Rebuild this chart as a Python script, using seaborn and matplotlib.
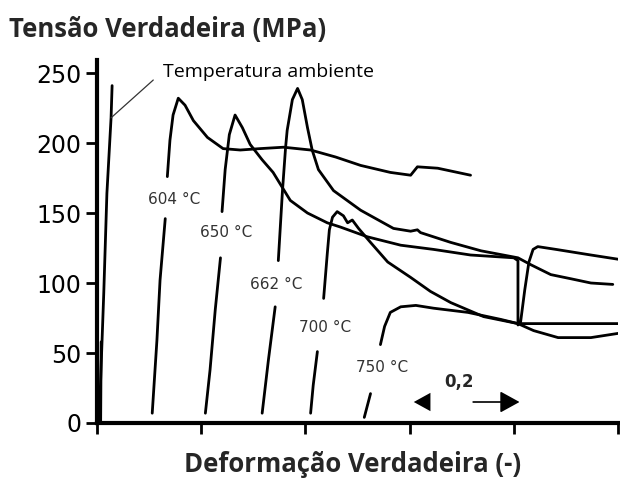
import numpy as np
import pandas as pd
import matplotlib
matplotlib.use("Agg")
import matplotlib.pyplot as plt
import seaborn as sns

# ---- data (strain [-], true stress [MPa]) ----
amb_strain = [0.004, 0.013, 0.019, 0.027, 0.029]
amb_stress = [0.0, 93, 164, 218, 241]
amb_base_strain = [0.007, 0.008]
amb_base_stress = [0.0, 58]

c604_lo_strain = [0.106, 0.115, 0.121, 0.131]
c604_lo_stress = [7, 59, 102, 146]
c604_up_strain = [0.135, 0.140, 0.146, 0.156, 0.169, 0.185, 0.212, 0.242, 0.275,
                  0.313, 0.358, 0.410, 0.458, 0.506, 0.563, 0.602, 0.615, 0.654, 0.717]
c604_up_stress = [176, 202, 220, 232, 227, 216, 204, 196, 195,
                  196, 197, 195, 190, 184, 179, 177, 183, 182, 177]

c650_lo_strain = [0.208, 0.217, 0.227, 0.237]
c650_lo_stress = [7, 38, 81, 118]
c650_up_strain = [0.240, 0.246, 0.254, 0.265, 0.279, 0.294, 0.317, 0.338, 0.371,
                  0.404, 0.442, 0.467, 0.519, 0.583, 0.646, 0.717, 0.800, 0.808,
                  0.808, 0.813, 0.821, 0.829, 0.837, 0.846, 0.881, 0.948, 1.0]
c650_up_stress = [151, 181, 206, 220, 211, 199, 188, 179, 159,
                  150, 143, 140, 133, 127, 124, 120, 118, 116,
                  70, 72, 95, 115, 124, 126, 124, 120, 117]

c662_lo_strain = [0.317, 0.329, 0.342]
c662_lo_stress = [7, 45, 83]
c662_up_strain = [0.348, 0.356, 0.362, 0.365, 0.375, 0.385, 0.394, 0.404, 0.413,
                  0.425, 0.454, 0.506, 0.569, 0.602, 0.615, 0.621, 0.679, 0.737,
                  0.808, 0.833, 0.871, 0.910, 0.948, 0.990]
c662_up_stress = [116, 166, 197, 209, 231, 239, 231, 211, 195,
                  181, 166, 152, 139, 137, 138, 136, 129, 123,
                  118, 113, 106, 103, 100, 99]

c700_lo_strain = [0.410, 0.415, 0.423]
c700_lo_stress = [7, 27, 51]
c700_up_strain = [0.435, 0.442, 0.446, 0.452, 0.461, 0.473, 0.481, 0.490, 0.502,
                  0.525, 0.558, 0.602, 0.640, 0.679, 0.742, 0.808, 0.838, 0.885,
                  0.948, 1.0]
c700_up_stress = [89, 121, 138, 147, 151, 148, 143, 145, 139,
                  129, 115, 104, 94, 86, 76, 71, 66, 61,
                  61, 64]

c750_lo_strain = [0.513, 0.525]
c750_lo_stress = [4, 21]
c750_up_strain = [0.544, 0.552, 0.563, 0.583, 0.612, 0.646, 0.712, 0.775, 0.808,
                  0.890, 1.0]
c750_up_stress = [56, 69, 79, 83, 84, 82, 79, 74, 71,
                  71, 71]

temp_labels = ["604 °C", "650 °C", "662 °C", "700 °C", "750 °C"]
label_strain = [0.0979, 0.198, 0.294, 0.388, 0.498]
label_stress = [160, 136, 99, 68, 40]

x_ticks = [0.0, 0.2, 0.4, 0.6, 0.8, 1.0]
y_ticks = [0, 50, 100, 150, 200, 250]

segments = [
    ("amb", amb_strain, amb_stress),
    ("amb0", amb_base_strain, amb_base_stress),
    ("604a", c604_lo_strain, c604_lo_stress), ("604b", c604_up_strain, c604_up_stress),
    ("650a", c650_lo_strain, c650_lo_stress), ("650b", c650_up_strain, c650_up_stress),
    ("662a", c662_lo_strain, c662_lo_stress), ("662b", c662_up_strain, c662_up_stress),
    ("700a", c700_lo_strain, c700_lo_stress), ("700b", c700_up_strain, c700_up_stress),
    ("750a", c750_lo_strain, c750_lo_stress), ("750b", c750_up_strain, c750_up_stress),
]
df = pd.concat([pd.DataFrame({"strain": s, "stress": t, "seg": n}) for n, s, t in segments],
               ignore_index=True)

sns.set_theme(style="ticks")
plt.rcParams["font.family"] = ["DejaVu Sans"]

fig = plt.figure(figsize=(6.2, 4.8), dpi=100)
ax = fig.add_axes([97 / 620, 57 / 480, 521 / 620, 363 / 480])

sns.lineplot(data=df, x="strain", y="stress", units="seg", estimator=None, sort=False,
             color="black", lw=2.0, ax=ax, legend=False)

ax.set_xlim(0, 1.0)
ax.set_ylim(0, 259.3)
ax.set_xticks(x_ticks)
ax.set_xticklabels([])
ax.set_yticks(y_ticks)
ax.set_yticklabels([str(v) for v in y_ticks], fontsize=17, color="black",
                   family="DejaVu Sans")
ax.tick_params(axis="both", direction="out", length=8, width=2, color="black", pad=3)
ax.set_xlabel("")
ax.set_ylabel("")
sns.despine(ax=ax)
for sp in ("left", "bottom"):
    ax.spines[sp].set_linewidth(3)
    ax.spines[sp].set_color("black")

for lab, sx, sy in zip(temp_labels, label_strain, label_stress):
    ax.text(sx, sy, lab, fontsize=11, color="#333333", va="center", ha="left")

# annotation for room temperature
ax.plot([0.027, 0.108], [218, 245], color="#333333", lw=0.9)
ax.text(0.127, 251, "Temperatura ambiente", fontsize=14, family="Open Sans",
        va="center", ha="left", color="black")

# 0,2 scale arrows
ax.annotate("", xy=(0.608, 15), xytext=(0.648, 15),
            arrowprops=dict(arrowstyle="-|>,head_length=1.0,head_width=0.55", lw=0,
                            color="black", shrinkA=0, shrinkB=0))
ax.annotate("", xy=(0.811, 15), xytext=(0.722, 15),
            arrowprops=dict(arrowstyle="-|>,head_length=1.0,head_width=0.55", lw=1.2,
                            color="black", shrinkA=0, shrinkB=0))
ax.text(0.694, 29, "0,2", fontsize=12, fontweight="bold", ha="center", va="center")

fig.text(9 / 620, 1 - 29 / 480, "Tensão Verdadeira (MPa)", fontsize=18.5, fontweight="bold",
         family="Open Sans", ha="left", va="center")
fig.text(353 / 620, 1 - 465 / 480, "Deformação Verdadeira (-)", fontsize=18.5,
         fontweight="bold", family="Open Sans", ha="center", va="center")

fig.savefig("out.png", dpi=100, facecolor="white")
